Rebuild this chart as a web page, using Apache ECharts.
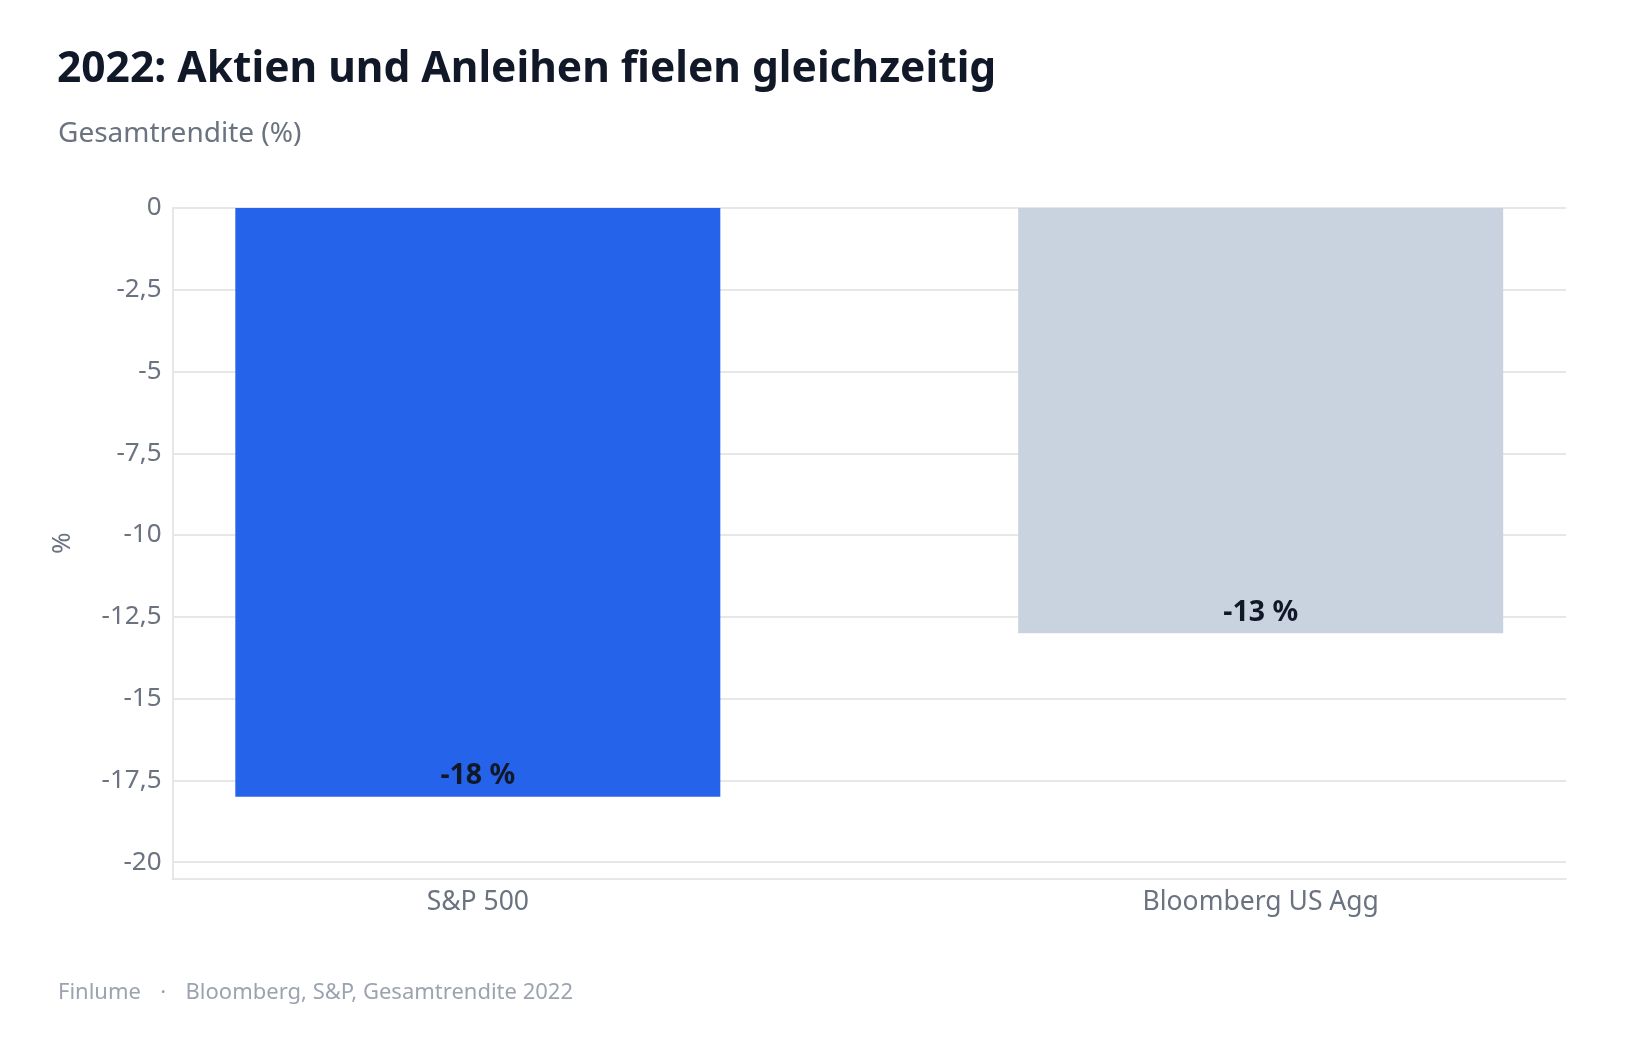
<!DOCTYPE html>
<html>
<head>
<meta charset="utf-8">
<script src="https://cdn.jsdelivr.net/npm/echarts@6/dist/echarts.min.js"></script>
<style>
html,body{margin:0;padding:0;background:#fff;}
#chart{width:1639px;height:1040px;}
</style>
</head>
<body>
<div id="chart"></div>
<script>
const titleText = '2022: Aktien und Anleihen fielen gleichzeitig';
const subtitleText = 'Gesamtrendite (%)';
const footerText = 'Finlume   \u200a·   \u200aBloomberg, S&P, Gesamtrendite 2022';
const categories = ['S&P 500', 'Bloomberg US Agg'];
const returns = [-18, -13];
const barColors = ['#2563eb', '#c9d3df'];
const yAxisName = '%';

const FONT = '"Noto Sans", "Open Sans", sans-serif';
const chart = echarts.init(document.getElementById('chart'), null, {renderer: 'canvas'});

const data = categories.map((c, i) => ({
  value: [i, returns[i]],
  itemStyle: {color: barColors[i]}
}));

chart.setOption({
  backgroundColor: '#ffffff',
  animation: false,
  textStyle: {fontFamily: FONT},
  title: [
    {text: titleText, left: 52, top: 43,
     textStyle: {fontFamily: FONT, fontSize: 42.5, fontWeight: 'bold', color: '#111827'}},
    {text: subtitleText, left: 53, top: 115,
     textStyle: {fontFamily: FONT, fontSize: 28, fontWeight: 'normal', color: '#6b7280'}},
    {text: footerText, left: 53, top: 977,
     textStyle: {fontFamily: FONT, fontSize: 22, fontWeight: 'normal', color: '#9ca3af'}}
  ],
  grid: {left: 172.5, right: 73, top: 208, bottom: 161.5, containLabel: false},
  xAxis: {
    type: 'value', min: -0.39, max: 1.39, minInterval: 1, maxInterval: 1,
    axisLine: {show: true, onZero: false, lineStyle: {color: '#e5e7eb', width: 2}},
    axisTick: {show: false},
    splitLine: {show: false},
    axisLabel: {
      show: true, showMinLabel: false, showMaxLabel: false, margin: 10,
      color: '#6b7280', fontSize: 26.5, fontFamily: FONT,
      formatter: v => (Number.isInteger(v) && categories[v] !== undefined) ? categories[v] : ''
    }
  },
  yAxis: {
    type: 'value', min: -20.5, max: 0, minInterval: 2.5, maxInterval: 2.5, splitNumber: 8,
    name: yAxisName, nameLocation: 'middle', nameGap: 97,
    nameTextStyle: {fontFamily: FONT, fontSize: 26, color: '#6b7280'},
    axisLine: {show: true, onZero: false, lineStyle: {color: '#e5e7eb', width: 2}},
    axisTick: {show: false},
    splitLine: {show: true, lineStyle: {color: '#e5e7eb', width: 2}},
    axisLabel: {
      showMinLabel: false, margin: 11, color: '#6b7280', fontSize: 26, fontFamily: FONT,
      padding: [3, 0, 0, 0],
      formatter: v => String(v).replace('.', ',')
    }
  },
  series: [{
    type: 'bar',
    data: data,
    barWidth: 485,
    label: {
      show: true, position: 'insideBottom', distance: 6,
      fontFamily: FONT, fontSize: 28.5, fontWeight: 'bold', color: '#111827',
      formatter: p => p.value[1] + ' %'
    }
  }]
});
</script>
</body>
</html>
